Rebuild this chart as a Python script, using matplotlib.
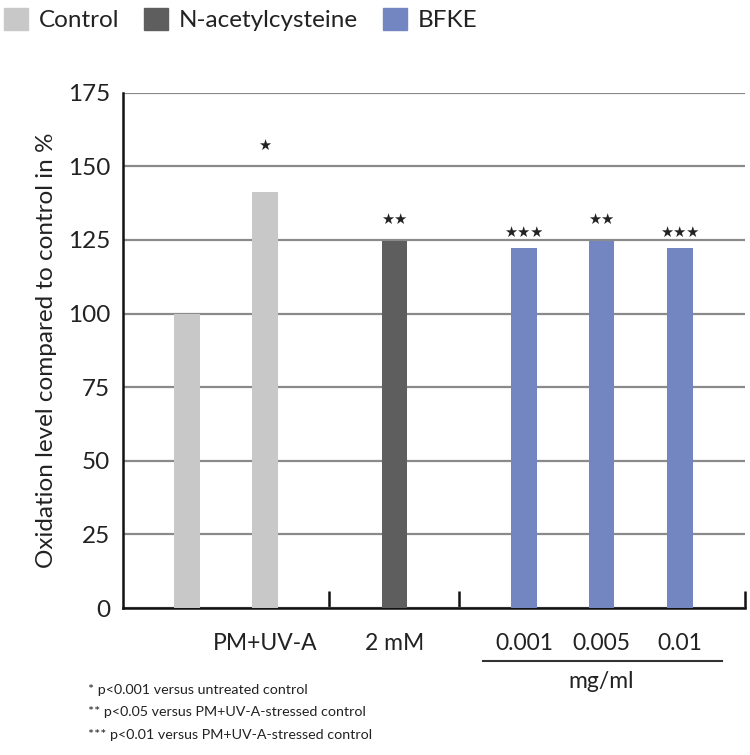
import matplotlib
matplotlib.use("Agg")
import matplotlib.pyplot as plt
from matplotlib.patches import Patch
from matplotlib.transforms import blended_transform_factory

plt.rcParams['font.family'] = ['Lato', 'DejaVu Sans']

# data
labels = ["", "PM+UV-A", "2 mM", "0.001", "0.005", "0.01"]
groups = ["Control", "Control", "N-acetylcysteine", "BFKE", "BFKE", "BFKE"]
values = [100, 141.3, 124.7, 122.3, 124.8, 122.3]
stars = ["", "★", "★★", "★★★", "★★", "★★★"]
star_heights = [0, 157, 132, 127.5, 132, 127.5]
footnotes = ["* p<0.001 versus untreated control",
             "** p<0.05 versus PM+UV-A-stressed control",
             "*** p<0.01 versus PM+UV-A-stressed control"]

colors = {"Control": "#c8c8c8", "N-acetylcysteine": "#5e5e5e", "BFKE": "#7486c2"}

# layout (bar centres and group separators in slot units)
xpos = [0.824, 1.824, 3.485, 5.145, 6.138, 7.145]
seps = [2.645, 4.312, 7.978]

fig = plt.figure(figsize=(7.5, 7.55), dpi=100)
ax = fig.add_axes([0.1636, 0.1947, 0.8297, 0.6825])

ax.bar(xpos, values, width=0.33, color=[colors[g] for g in groups], zorder=3)
for x, s, h in zip(xpos, stars, star_heights):
    if s:
        ax.text(x, h, s, ha="center", va="center", fontsize=10.5,
                family=["DejaVu Sans"], color="#222222", zorder=4)

ax.set_xlim(0, 7.978)
ax.set_ylim(0, 175)
ax.set_yticks(range(0, 176, 25))
ax.yaxis.grid(True, color="#8a8a8a", lw=1.6, zorder=0)
ax.tick_params(axis="y", length=0, labelsize=17.5, pad=9, labelcolor="#222222")
ax.set_xticks(seps)
ax.set_xticklabels([])
ax.tick_params(axis="x", direction="in", length=12, width=1.8, color="#111111")

for side in ["top", "right"]:
    ax.spines[side].set_visible(False)
for side in ["left", "bottom"]:
    ax.spines[side].set_linewidth(1.8)
    ax.spines[side].set_color("#111111")

ax.set_ylabel("Oxidation level compared to control in %", fontsize=17.5,
              color="#222222", labelpad=8)

trans = blended_transform_factory(ax.transData, ax.transAxes)
for x, lab in zip(xpos, labels):
    ax.text(x, -0.068, lab, transform=trans, ha="center", va="center",
            fontsize=16.5, color="#222222")
ax.plot([4.62, 7.686], [-0.103, -0.103], transform=trans, color="#333333",
        lw=1.5, clip_on=False)
ax.text(6.138, -0.1436, "mg/ml", transform=trans, ha="center", va="center",
        fontsize=16.5, color="#222222")

for i, f in enumerate(footnotes):
    fig.text(0.117, 0.086 - i * 0.0295, f, ha="left", va="center",
             fontsize=10.3, color="#222222")

handles = [Patch(color=colors[k]) for k in ["Control", "N-acetylcysteine", "BFKE"]]
fig.legend(handles, ["Control", "N-acetylcysteine", "BFKE"], loc="upper left",
           bbox_to_anchor=(-0.024, 1.018), ncol=3, frameon=False, fontsize=17.5,
           handlelength=1.0, handleheight=1.0, handletextpad=0.45,
           columnspacing=1.0, labelcolor="#222222")

fig.savefig("out.png", dpi=100)
